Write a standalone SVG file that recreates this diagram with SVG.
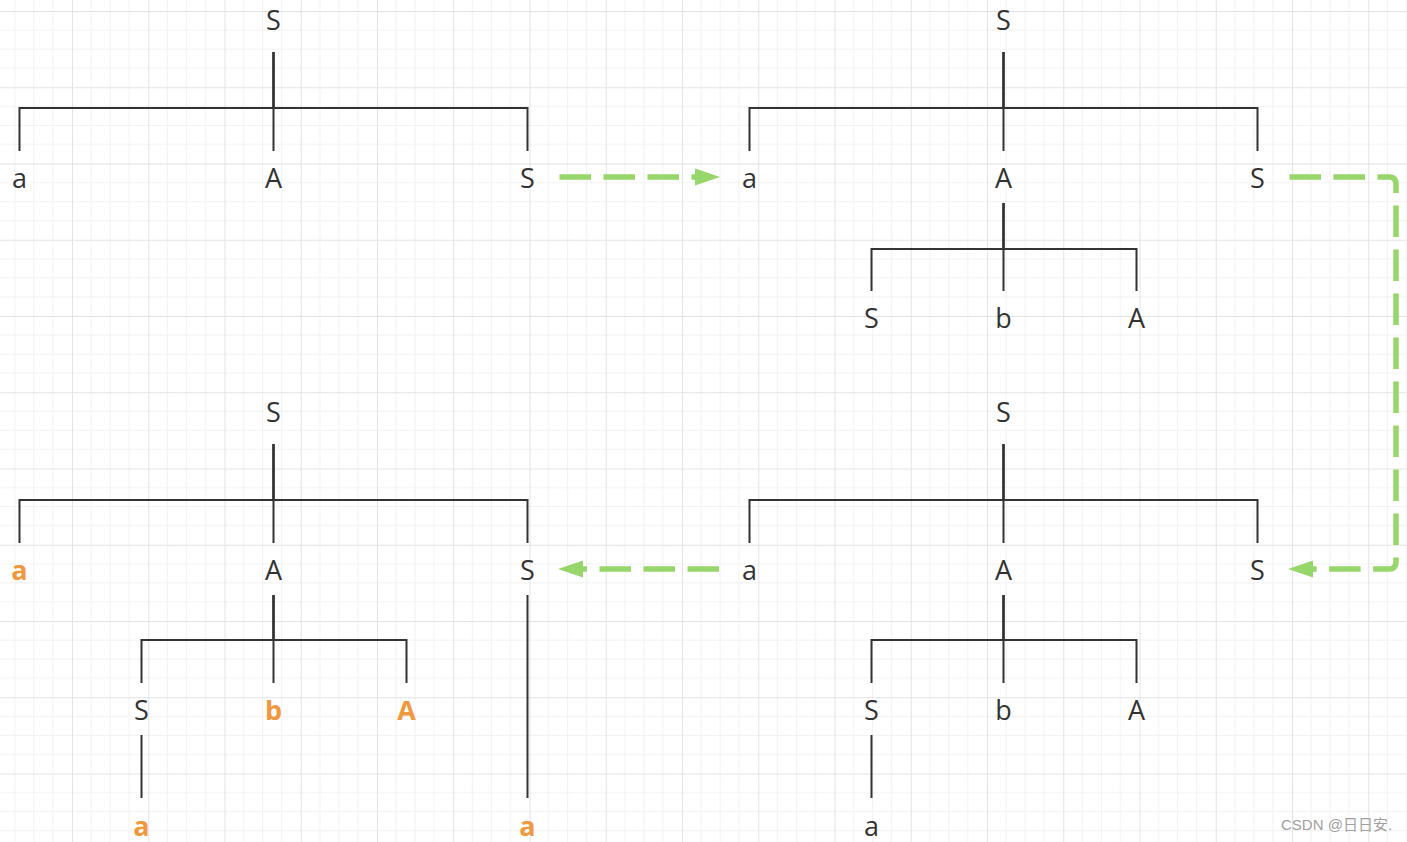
<svg xmlns="http://www.w3.org/2000/svg" width="1407" height="842" viewBox="0 0 1407 842">
  <defs>
    <pattern id="grid" x="72" y="11" width="76.25" height="76.25" patternUnits="userSpaceOnUse">
      <path d="M19.06,0 V76.25 M38.12,0 V76.25 M57.19,0 V76.25 M0,19.06 H76.25 M0,38.12 H76.25 M0,57.19 H76.25" stroke="#f1f1f1" stroke-width="1" fill="none"/>
      <path d="M0.5,0 V76.25 M0,0.5 H76.25" stroke="#e3e3e3" stroke-width="1" fill="none"/>
    </pattern>
    <marker id="ah" markerUnits="userSpaceOnUse" markerWidth="26" markerHeight="18" refX="0" refY="8.5" orient="auto" viewBox="0 0 26 17">
      <path d="M0,0 L25,8.5 L0,17 z" fill="#96d66a"/>
    </marker>
    <style>
      .t { font-family: "Open Sans", "Liberation Sans", sans-serif; font-size: 27px; fill: #333333; text-anchor: middle; }
      .o { font-family: "Open Sans", "Liberation Sans", sans-serif; font-size: 27px; font-weight: bold; fill: #f0983e; text-anchor: middle; }
      .e { fill: none; stroke: #333333; stroke-width: 2; }
      .g { fill: none; stroke: #96d66a; stroke-width: 5.5; stroke-dasharray: 31.5 12.5; }
      .wm { font-family: "Liberation Sans", "Noto Sans CJK SC", sans-serif; font-size: 15px; fill: #a0a0a0; }
    </style>
  </defs>
  <rect width="1407" height="842" fill="#ffffff"/>
  <rect width="1407" height="842" fill="url(#grid)"/>

  <g id="connectors">
    <!-- tree 1 -->
    <path class="e" d="M273.5,52 V108 H19.5 V151"/>
    <path class="e" d="M273.5,52 V151"/>
    <path class="e" d="M273.5,52 V108 H527.5 V151"/>
    <!-- tree 2 -->
    <path class="e" d="M1003.5,52 V108 H749.5 V151"/>
    <path class="e" d="M1003.5,52 V151"/>
    <path class="e" d="M1003.5,52 V108 H1257.5 V151"/>
    <path class="e" d="M1003.5,203 V249 H871.5 V291"/>
    <path class="e" d="M1003.5,203 V291"/>
    <path class="e" d="M1003.5,203 V249 H1136.5 V291"/>
    <!-- tree 3 -->
    <path class="e" d="M1003.5,444 V500 H749.5 V543"/>
    <path class="e" d="M1003.5,444 V543"/>
    <path class="e" d="M1003.5,444 V500 H1257.5 V543"/>
    <path class="e" d="M1003.5,595 V640 H871.5 V683"/>
    <path class="e" d="M1003.5,595 V683"/>
    <path class="e" d="M1003.5,595 V640 H1136.5 V683"/>
    <path class="e" d="M871.5,735 V798"/>
    <!-- tree 4 -->
    <path class="e" d="M273.5,444 V500 H19.5 V543"/>
    <path class="e" d="M273.5,444 V543"/>
    <path class="e" d="M273.5,444 V500 H527.5 V543"/>
    <path class="e" d="M273.5,595 V640 H141.5 V683"/>
    <path class="e" d="M273.5,595 V683"/>
    <path class="e" d="M273.5,595 V640 H406.5 V683"/>
    <path class="e" d="M141.5,735 V798"/>
    <path class="e" d="M527.5,595 V798"/>
    <!-- green transition arrows -->
    <path class="g" d="M559.5,177 H695" marker-end="url(#ah)"/>
    <path class="g" d="M1289.5,177 H1389 Q1396,177 1396,184 V562 Q1396,569 1389,569 H1313" marker-end="url(#ah)"/>
    <path class="g" d="M719,569 H583" marker-end="url(#ah)"/>
  </g>

  <!-- tree 1 -->
  <g id="t1-S"><text class="t" x="273.5" y="29.5">S</text></g>
  <g id="t1-a"><text class="t" x="19.5" y="187.5">a</text></g>
  <g id="t1-A"><text class="t" x="273.5" y="187.5">A</text></g>
  <g id="t1-S2"><text class="t" x="527.5" y="187.5">S</text></g>

  <!-- tree 2 -->
  <g id="t2-S"><text class="t" x="1003.5" y="29.5">S</text></g>
  <g id="t2-a"><text class="t" x="749.5" y="187.5">a</text></g>
  <g id="t2-A"><text class="t" x="1003.5" y="187.5">A</text></g>
  <g id="t2-S2"><text class="t" x="1257.5" y="187.5">S</text></g>
  <g id="t2-S3"><text class="t" x="871.5" y="327.5">S</text></g>
  <g id="t2-b"><text class="t" x="1003.5" y="327.5">b</text></g>
  <g id="t2-A2"><text class="t" x="1136.5" y="327.5">A</text></g>

  <!-- tree 3 -->
  <g id="t3-S"><text class="t" x="1003.5" y="421.5">S</text></g>
  <g id="t3-a"><text class="t" x="749.5" y="579.5">a</text></g>
  <g id="t3-A"><text class="t" x="1003.5" y="579.5">A</text></g>
  <g id="t3-S2"><text class="t" x="1257.5" y="579.5">S</text></g>
  <g id="t3-S3"><text class="t" x="871.5" y="719.5">S</text></g>
  <g id="t3-b"><text class="t" x="1003.5" y="719.5">b</text></g>
  <g id="t3-A2"><text class="t" x="1136.5" y="719.5">A</text></g>
  <g id="t3-a2"><text class="t" x="871.5" y="835.5">a</text></g>

  <!-- tree 4 -->
  <g id="t4-S"><text class="t" x="273.5" y="421.5">S</text></g>
  <g id="t4-a"><text class="o" x="19.5" y="579.5">a</text></g>
  <g id="t4-A"><text class="t" x="273.5" y="579.5">A</text></g>
  <g id="t4-S2"><text class="t" x="527.5" y="579.5">S</text></g>
  <g id="t4-S3"><text class="t" x="141.5" y="719.5">S</text></g>
  <g id="t4-b"><text class="o" x="273.5" y="719.5">b</text></g>
  <g id="t4-A2"><text class="o" x="406.5" y="719.5">A</text></g>
  <g id="t4-a2"><text class="o" x="141.5" y="835.5">a</text></g>
  <g id="t4-a3"><text class="o" x="527.5" y="835.5">a</text></g>

  <g id="watermark"><text class="wm" x="1281" y="830">CSDN @日日安.</text></g>
</svg>
